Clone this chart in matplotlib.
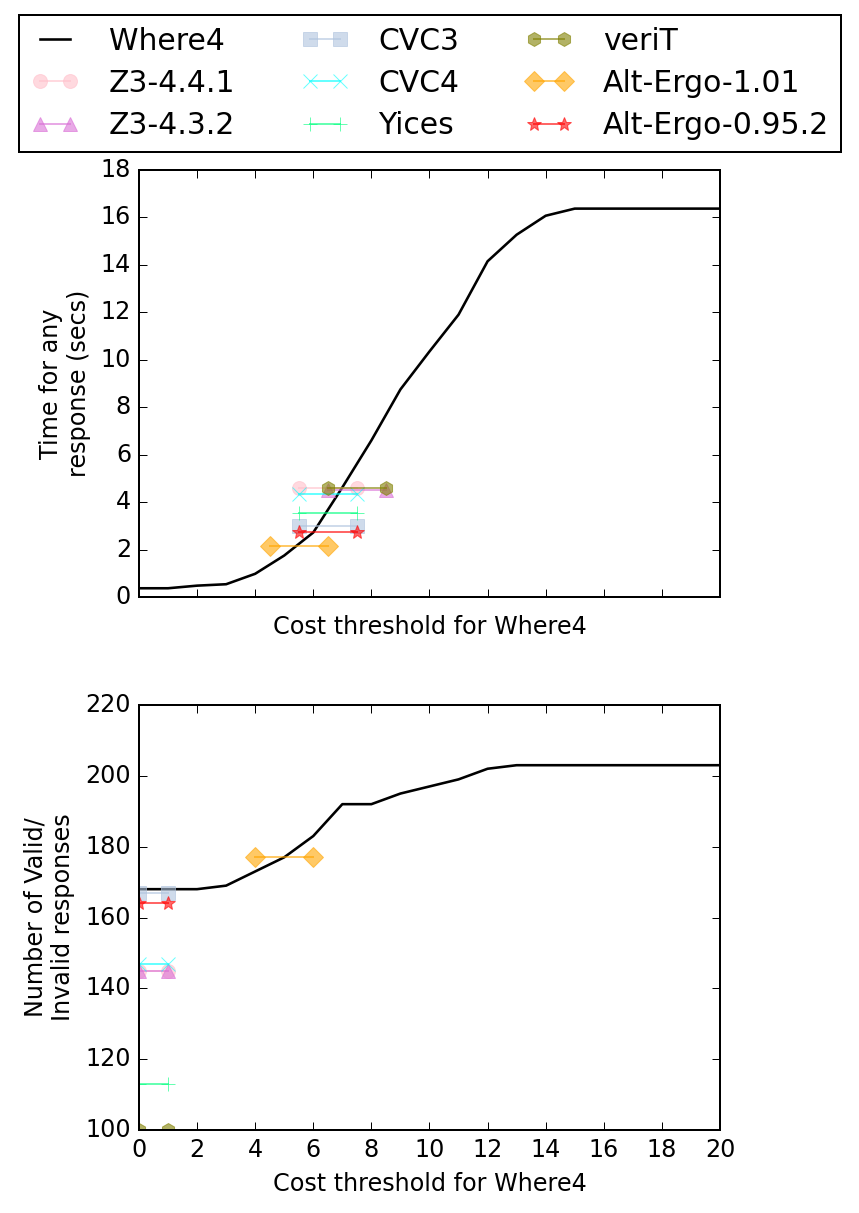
import matplotlib
matplotlib.use('Agg')
import matplotlib.pyplot as plt

plt.style.use('classic')

# cost thresholds for Where4
cost = list(range(0, 21))
where4_time = [0.37, 0.37, 0.48, 0.54, 0.98, 1.75, 2.72, 4.62, 6.6, 8.75, 10.35,
               11.9, 14.15, 15.27, 16.07, 16.37, 16.37, 16.37, 16.37, 16.37, 16.37]
where4_valid = [168, 168, 168, 169, 173, 177, 183, 192, 192, 195, 197,
                199, 202, 203, 203, 203, 203, 203, 203, 203, 203]

solvers = ['Z3-4.4.1', 'Z3-4.3.2', 'CVC3', 'CVC4', 'Yices', 'veriT',
           'Alt-Ergo-1.01', 'Alt-Ergo-0.95.2']
markers = ['o', '^', 's', 'x', '+', 'h', 'D', '*']
colors = ['pink', 'orchid', 'lightsteelblue', 'cyan', 'springgreen', 'olive',
          'orange', 'red']

# each solver is a flat segment: (start, end) cost and a y value
time_x = [(5.5, 7.5), (6.5, 8.5), (5.5, 7.5), (5.5, 7.5), (5.5, 7.5),
          (6.5, 8.5), (4.5, 6.5), (5.5, 7.5)]
time_y = [4.59, 4.52, 3.0, 4.36, 3.54, 4.59, 2.17, 2.75]
valid_x = [(0, 1), (0, 1), (0, 1), (0, 1), (0, 1), (0, 1), (4, 6), (0, 1)]
valid_y = [145, 145, 167, 147, 113, 100, 177, 164]

fig = plt.figure(figsize=(6.0, 8.463), dpi=143.33, facecolor='white')
ax1 = fig.add_axes([0.1616, 0.5078, 0.6756, 0.3521])
ax2 = fig.add_axes([0.1616, 0.0684, 0.6756, 0.3504])

ax1.plot(cost, where4_time, color='black', lw=1.3, label='Where4')
ax2.plot(cost, where4_valid, color='black', lw=1.3, label='Where4')
for i, name in enumerate(solvers):
    style = dict(marker=markers[i], color=colors[i], mec=colors[i], ms=7,
                 alpha=0.6, label=name)
    ax1.plot(time_x[i], [time_y[i]] * 2, **style)
    ax2.plot(valid_x[i], [valid_y[i]] * 2, **style)

ax1.set_xlim(0, 20)
ax1.set_ylim(0, 18)
ax1.set_xticks(range(0, 21, 2))
ax1.set_xticklabels([])
ax1.set_xlabel('Cost threshold for Where4')
ax1.set_ylabel('Time for any\nresponse (secs)')

ax2.set_xlim(0, 20)
ax2.set_ylim(100, 220)
ax2.set_xticks(range(0, 21, 2))
ax2.set_xlabel('Cost threshold for Where4')
ax2.set_ylabel('Number of Valid/\nInvalid responses')

handles, labels = ax1.get_legend_handles_labels()
fig.legend(handles, labels, loc='upper center', bbox_to_anchor=(0.5, 0.988),
           ncol=3, numpoints=2, fontsize=15, borderaxespad=0,
           handlelength=1.6, handletextpad=1.0, columnspacing=2.2,
           labelspacing=0.45)

fig.savefig('out.png', dpi=143.33, facecolor='white')
